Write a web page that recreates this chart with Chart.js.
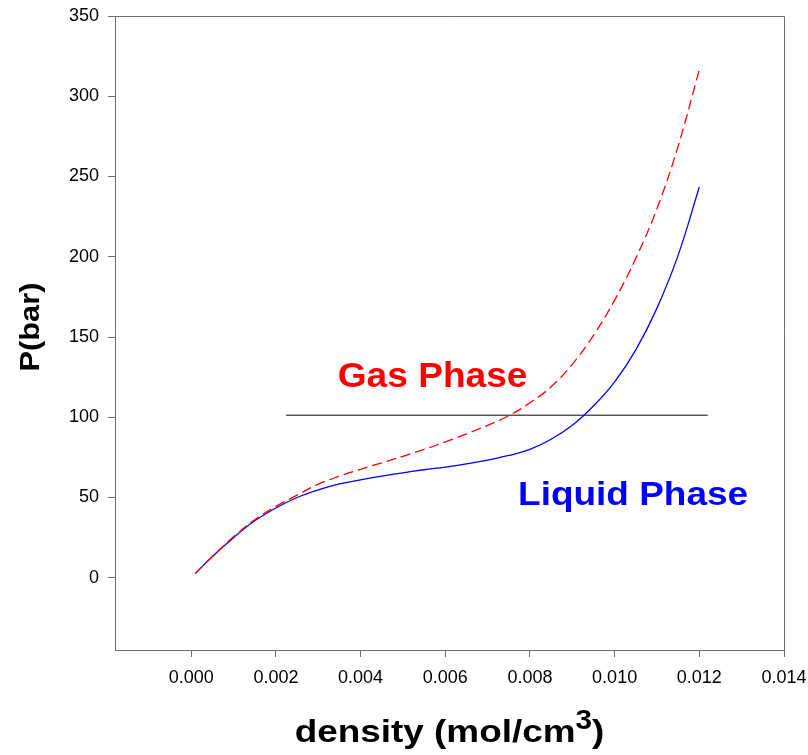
<!DOCTYPE html>
<html><head><meta charset="utf-8">
<script src="https://cdn.jsdelivr.net/npm/chart.js@4/dist/chart.umd.min.js"></script>
<style>html,body{margin:0;padding:0;background:#fff}#wrap{width:808px;height:755px}</style>
</head><body><div id="wrap"><canvas id="c" width="808" height="755"></canvas></div>
<script>
// ---- data ----
const density = [0.0001, 0.0005, 0.001, 0.0015, 0.002, 0.0025, 0.003, 0.0035, 0.004, 0.0045, 0.005, 0.0055, 0.006, 0.0065, 0.007, 0.0075, 0.008, 0.0085, 0.009, 0.0095, 0.010, 0.0105, 0.011, 0.0115, 0.012];
const liquidP = [2.7, 13.3, 25, 35.5, 43.5, 50, 54.8, 58.5, 61, 63.3, 65.4, 67.3, 69, 71, 73.3, 76.2, 80, 86.3, 95, 107, 122, 142, 168, 201, 243.5];
const gasP = [2.7, 13.3, 25.5, 36.2, 44.5, 51.5, 58.3, 63.3, 67.6, 71.6, 75.7, 80, 84.6, 89.6, 95, 101, 109, 119, 133, 151, 173, 199, 230, 269, 316.6];
const tieLineX = [0.00224, 0.0122];
const tieLineP = [101.3, 101.3];
const xTicks = [0, 0.002, 0.004, 0.006, 0.008, 0.010, 0.012, 0.014];
const yTicks = [0, 50, 100, 150, 200, 250, 300, 350];
const gasLabel = "Gas Phase";
const liquidLabel = "Liquid Phase";
const xTitleMain = "density (mol/cm";
const xTitleSup = "3";
const xTitleEnd = ")";
const yTitle = "P(bar)";

const FONT = '"Liberation Sans", Arial, Helvetica, sans-serif';
const AXIS_GREY = '#6e6e6e';

function drawScaled(ctx, str, x, y, size, sx, color) {
  ctx.save();
  ctx.font = 'bold ' + size + 'px ' + FONT;
  ctx.translate(x, y);
  ctx.scale(sx, 1);
  ctx.fillStyle = color;
  ctx.textBaseline = 'alphabetic';
  ctx.textAlign = 'left';
  ctx.fillText(str, 0, 0);
  ctx.restore();
}
function textW(ctx, str, size, sx) {
  ctx.save();
  ctx.font = 'bold ' + size + 'px ' + FONT;
  const w = ctx.measureText(str).width * sx;
  ctx.restore();
  return w;
}

const decor = {
  id: 'decor',
  afterDraw(chart) {
    const ctx = chart.ctx;
    const a = chart.chartArea;
    const xs = chart.scales.x, ys = chart.scales.y;
    // frame top and right
    ctx.save();
    ctx.strokeStyle = AXIS_GREY;
    ctx.lineWidth = 1;
    ctx.beginPath();
    ctx.moveTo(a.left, a.top + 0.5);
    ctx.lineTo(a.right + 0.5, a.top + 0.5);
    ctx.lineTo(a.right + 0.5, a.bottom);
    ctx.stroke();
    ctx.restore();
    // annotations
    drawScaled(ctx, gasLabel, xs.getPixelForValue(0.00346), ys.getPixelForValue(119), 35, 1.06, '#ff0000');
    drawScaled(ctx, liquidLabel, xs.getPixelForValue(0.00772), ys.getPixelForValue(45.3), 33, 1.12, '#0000ff');
    // x title
    const s1 = 31, sx1 = 1.19, s3 = 27, sx3 = 1.1;
    const w1 = textW(ctx, xTitleMain, s1, sx1);
    const w3 = textW(ctx, xTitleSup, s3, sx3);
    const w4 = textW(ctx, xTitleEnd, s1, sx1);
    const cx = (a.left + a.right) / 2;
    let x0 = cx - (w1 + w3 + w4) / 2;
    drawScaled(ctx, xTitleMain, x0, 742, s1, sx1, '#000');
    drawScaled(ctx, xTitleSup, x0 + w1, 729, s3, sx3, '#000');
    drawScaled(ctx, xTitleEnd, x0 + w1 + w3, 742, s1, sx1, '#000');
    // y title
    ctx.save();
    ctx.translate(39, (a.top + a.bottom) / 2 - 6);
    ctx.rotate(-Math.PI / 2);
    const wy = textW(ctx, yTitle, 28, 1.1);
    drawScaled(ctx, yTitle, -wy / 2, 0, 28, 1.1, '#000');
    ctx.restore();
  }
};

new Chart(document.getElementById('c'), {
  type: 'scatter',
  data: {
    datasets: [
      {
        label: 'Gas',
        data: density.map((x, i) => ({ x: x, y: gasP[i] })),
        showLine: true, borderColor: '#ff0000', borderWidth: 1.3, borderDash: [10, 5],
        pointRadius: 0, tension: 0.4, order: 0
      },
      {
        label: 'Liquid',
        data: density.map((x, i) => ({ x: x, y: liquidP[i] })),
        showLine: true, borderColor: '#0000ff', borderWidth: 1.3,
        pointRadius: 0, tension: 0.4, order: 1
      },
      {
        label: 'Tie',
        data: tieLineX.map((x, i) => ({ x: x, y: tieLineP[i] })),
        showLine: true, borderColor: '#000000', borderWidth: 1,
        pointRadius: 0, order: 2
      }
    ]
  },
  options: {
    responsive: false,
    animation: false,
    devicePixelRatio: 1,
    layout: { padding: { left: 0, top: 16, right: 24, bottom: 0 } },
    plugins: { legend: { display: false }, tooltip: { enabled: false }, title: { display: false } },
    scales: {
      x: {
        type: 'linear', position: 'bottom', min: -0.0018, max: 0.014,
        afterBuildTicks: (ax) => { ax.ticks = xTicks.map(v => ({ value: v })); },
        afterFit: (ax) => { ax.height = 105; ax.paddingLeft = 0; ax.paddingRight = 0; },
        ticks: { font: { size: 18, family: FONT }, color: '#000', padding: 10, maxRotation: 0, autoSkip: false,
                 callback: (v) => Number(v).toFixed(3) },
        grid: { drawOnChartArea: false, drawTicks: true, tickLength: 7, tickColor: AXIS_GREY },
        border: { color: AXIS_GREY, width: 1 }
      },
      y: {
        type: 'linear', position: 'left', min: -45, max: 350,
        afterBuildTicks: (ax) => { ax.ticks = yTicks.map(v => ({ value: v })); },
        afterFit: (ax) => { ax.width = 115; ax.paddingTop = 0; ax.paddingBottom = 0; },
        ticks: { font: { size: 18, family: FONT }, color: '#000', padding: 9, autoSkip: false,
                 callback: (v) => String(v) },
        grid: { drawOnChartArea: false, drawTicks: true, tickLength: 7, tickColor: AXIS_GREY },
        border: { color: AXIS_GREY, width: 1 }
      }
    }
  },
  plugins: [decor]
});
</script>
</body></html>
